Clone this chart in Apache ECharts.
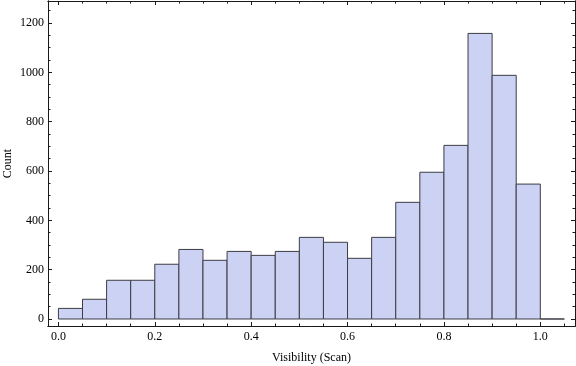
<!DOCTYPE html>
<html>
<head>
<meta charset="utf-8">
<script src="https://cdn.jsdelivr.net/npm/echarts@6/dist/echarts.min.js"></script>
<style>html,body{margin:0;padding:0;background:#fff}#c{width:576px;height:366px}</style>
</head>
<body>
<div id="c"></div>
<script>
// ---- data ----
var binStarts = [0.00,0.05,0.10,0.15,0.20,0.25,0.30,0.35,0.40,0.45,0.50,0.55,0.60,0.65,0.70,0.75,0.80,0.85,0.90,0.95,1.00];
var binWidth = 0.05;
var counts = [43,80,157,157,222,282,238,274,258,274,331,311,246,331,473,595,704,1158,988,547,0];
var xMajorTicks = [0.0,0.2,0.4,0.6,0.8,1.0];
var xMinorTicks = [0.05,0.10,0.15,0.25,0.30,0.35,0.45,0.50,0.55,0.65,0.70,0.75,0.85,0.90,0.95,1.05];
var yMajorTicks = [0,200,400,600,800,1000,1200];
var yMinorTicks = [50,100,150,250,300,350,450,500,550,650,700,750,850,900,950,1050,1100,1150,1250];
var xTitle = 'Visibility (Scan)';
var yTitle = 'Count';

var histData = binStarts.map(function(s,i){ return [s, s+binWidth, counts[i]]; });

var FONT = 'Liberation Serif';
var FRAME = '#1a1a1a';
var XMIN = -0.0216, XMAX = 1.072, YMIN = -28.4, YMAX = 1289.4;

function xAx(pos, ticks, len, labels, name){
  return {
    type:'value', gridIndex:0, position:pos, min:XMIN, max:XMAX,
    axisLine:{show:true, onZero:false, lineStyle:{color:FRAME, width:1}},
    axisTick:{show:true, inside:true, length:len, customValues:ticks, lineStyle:{color:FRAME, width:1}},
    axisLabel:{show:labels, customValues:ticks, margin:5, color:'#000', fontFamily:FONT, fontSize:12,
      formatter:function(v){ return v.toFixed(1); }},
    splitLine:{show:false},
    name: name || '', nameLocation:'middle', nameGap:26, nameMoveOverlap:false,
    nameTextStyle:{color:'#000', fontFamily:FONT, fontSize:12}
  };
}
function yAx(pos, ticks, len, labels, name){
  return {
    type:'value', gridIndex:0, position:pos, min:YMIN, max:YMAX,
    axisLine:{show:true, onZero:false, lineStyle:{color:FRAME, width:1}},
    axisTick:{show:true, inside:true, length:len, customValues:ticks, lineStyle:{color:FRAME, width:1}},
    axisLabel:{show:labels, customValues:ticks, margin:4, color:'#000', fontFamily:FONT, fontSize:12,
      formatter:function(v){ return String(Math.round(v)); }},
    splitLine:{show:false},
    name: name || '', nameLocation:'middle', nameGap:34, nameMoveOverlap:false,
    nameTextStyle:{color:'#000', fontFamily:FONT, fontSize:12}
  };
}

var chart = echarts.init(document.getElementById('c'), null, {renderer:'canvas'});
chart.setOption({
  animation:false,
  backgroundColor:'#fff',
  grid:{left:48, right:1, top:1, bottom:40, containLabel:false, outerBoundsMode:'none'},
  xAxis:[
    xAx('bottom', xMajorTicks, 4, true, xTitle),
    xAx('bottom', xMinorTicks, 2.5, false),
    xAx('top', xMajorTicks, 4, false),
    xAx('top', xMinorTicks, 2.5, false)
  ],
  yAxis:[
    yAx('left', yMajorTicks, 4, true),
    yAx('left', yMinorTicks, 2.5, false, yTitle),
    yAx('right', yMajorTicks, 4, false),
    yAx('right', yMinorTicks, 2.5, false)
  ],
  series:[{
    type:'custom', xAxisIndex:0, yAxisIndex:0,
    data: histData,
    encode:{x:[0,1], y:2},
    renderItem:function(params, api){
      var p0 = api.coord([api.value(0), api.value(2)]);
      var p1 = api.coord([api.value(1), 0]);
      return {
        type:'rect',
        shape:{x:p0[0], y:p0[1], width:p1[0]-p0[0], height:p1[1]-p0[1]},
        style:{fill:'#cbd2f4', stroke:'#3c3c44', lineWidth:1}
      };
    }
  }]
});
</script>
</body>
</html>
